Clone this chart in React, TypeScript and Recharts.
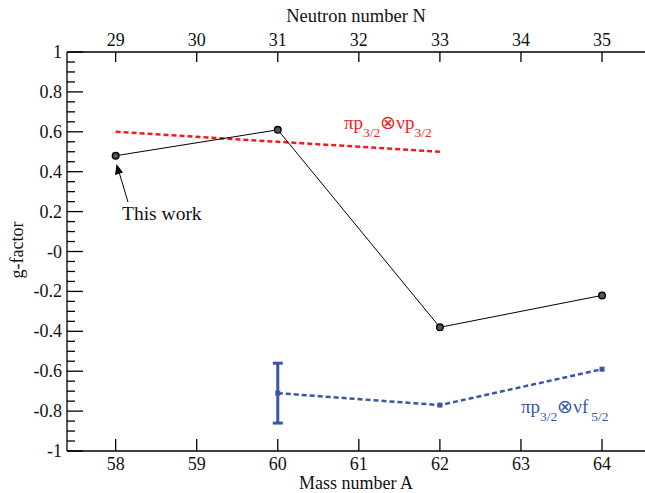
import { LineChart, Line, XAxis, YAxis, ErrorBar } from 'recharts';

const massNumbers = [58, 60, 62, 64];
const thisWork = [0.48, 0.61, -0.38, -0.22];
const ppCalc = [0.6, 0.55, 0.5, null];
const pfCalc = [null, -0.71, -0.77, -0.59];
const pfErr = [null, 0.15, null, null];

const massTicks = [58, 59, 60, 61, 62, 63, 64];
const neutronNumbers = [29, 30, 31, 32, 33, 34, 35];
const yMajorTicks = [1, 0.8, 0.6, 0.4, 0.2, 0, -0.2, -0.4, -0.6, -0.8, -1];
const yLabels = ['1', '0.8', '0.6', '0.4', '0.2', '-0', '-0.2', '-0.4', '-0.6', '-0.8', '-1'];
const yAllTicks = Array.from({ length: 41 }, (_, i) => Math.round((1 - i * 0.05) * 100) / 100);

const data = massNumbers.map((a, i) => ({
  a,
  thisWork: thisWork[i],
  pp: ppCalc[i],
  pf: pfCalc[i],
  pfErr: pfErr[i] ?? undefined,
}));

const FONT = '"Liberation Serif", "Times New Roman", serif';
const RED = '#f01c1c';
const BLUE = '#3b56a6';
const W = 645;
const H = 493;

const YTick = (props: any) => {
  const { x, y, payload } = props;
  const v = payload.value;
  const idx = yMajorTicks.findIndex((t) => Math.abs(t - v) < 1e-6);
  const major = idx >= 0;
  return (
    <g>
      <line x1={x} x2={x + (major ? 16 : 8)} y1={y} y2={y} stroke="#000" strokeWidth={1.3} />
      {major && (
        <text x={x - 5} y={y + 6} textAnchor="end" fontSize={18} fontFamily={FONT} fill="#111">
          {yLabels[idx]}
        </text>
      )}
    </g>
  );
};

const BottomTick = (props: any) => {
  const { x, y, payload } = props;
  return (
    <g>
      <line x1={x} x2={x} y1={y} y2={y - 12} stroke="#000" strokeWidth={1.3} />
      <text x={x} y={y + 19} textAnchor="middle" fontSize={18} fontFamily={FONT} fill="#111">
        {payload.value}
      </text>
    </g>
  );
};

const TopTick = (props: any) => {
  const { x, y, payload } = props;
  const idx = massTicks.indexOf(payload.value);
  return (
    <g>
      <line x1={x} x2={x} y1={y} y2={y + 10} stroke="#000" strokeWidth={1.3} />
      <text x={x} y={y - 6} textAnchor="middle" fontSize={18} fontFamily={FONT} fill="#111">
        {neutronNumbers[idx]}
      </text>
    </g>
  );
};

const BlackDot = (props: any) => {
  const { cx, cy, index } = props;
  if (cx == null || cy == null) return <g key={index} />;
  return <circle key={index} cx={cx} cy={cy} r={3.3} fill="#555" stroke="#000" strokeWidth={1.4} />;
};

const BlueDot = (props: any) => {
  const { cx, cy, index } = props;
  if (cx == null || cy == null) return <g key={index} />;
  return <rect key={index} x={cx - 2.5} y={cy - 2.5} width={5} height={5} fill={BLUE} />;
};

export default function App() {
  return (
    <div style={{ position: 'absolute', left: 0, top: 0, width: W, height: H, background: '#fff' }}>
      <LineChart width={W} height={H} data={data} margin={{ top: 0, right: 0, bottom: 0, left: 0 }}>
        <XAxis
          xAxisId="bottom"
          dataKey="a"
          type="number"
          domain={[57.4, 64.53]}
          ticks={massTicks}
          interval={0}
          height={42}
          tickSize={0}
          tickMargin={0}
          tick={<BottomTick />}
          axisLine={{ stroke: '#000', strokeWidth: 1.3 }}
          allowDataOverflow
        />
        <XAxis
          xAxisId="top"
          orientation="top"
          dataKey="a"
          type="number"
          domain={[57.4, 64.53]}
          ticks={massTicks}
          interval={0}
          height={52}
          tickSize={0}
          tickMargin={0}
          tick={<TopTick />}
          axisLine={{ stroke: '#000', strokeWidth: 1.3 }}
          allowDataOverflow
        />
        <YAxis
          type="number"
          domain={[-1, 1]}
          ticks={yAllTicks}
          interval={0}
          width={67}
          tickSize={0}
          tickMargin={0}
          tick={<YTick />}
          axisLine={{ stroke: '#000', strokeWidth: 1.3 }}
          allowDataOverflow
        />
        <Line
          xAxisId="bottom"
          dataKey="pp"
          stroke={RED}
          strokeWidth={2.5}
          strokeDasharray="5 3"
          dot={false}
          isAnimationActive={false}
        />
        <Line
          xAxisId="bottom"
          dataKey="pf"
          stroke={BLUE}
          strokeWidth={2.5}
          strokeDasharray="5 3"
          dot={<BlueDot />}
          isAnimationActive={false}
        >
          <ErrorBar dataKey="pfErr" width={5} stroke={BLUE} strokeWidth={3} direction="y" />
        </Line>
        <Line
          xAxisId="bottom"
          dataKey="thisWork"
          stroke="#000"
          strokeWidth={1}
          dot={<BlackDot />}
          isAnimationActive={false}
        />
      </LineChart>
      <svg
        width={W}
        height={H}
        style={{ position: 'absolute', left: 0, top: 0, pointerEvents: 'none' }}
        fontFamily={FONT}
      >
        <text x={356} y={22} textAnchor="middle" fontSize={18.5} fill="#111">
          Neutron number N
        </text>
        <text x={356} y={489} textAnchor="middle" fontSize={18} fill="#111">
          Mass number A
        </text>
        <text x={23} y={250} textAnchor="middle" fontSize={18} fill="#111" transform="rotate(-90 23 250)">
          g-factor
        </text>
        <text x={122} y={220} fontSize={19.5} fill="#111">
          This work
        </text>
        <line x1={128} y1={202} x2={119} y2={172} stroke="#000" strokeWidth={1} />
        <polygon points="116.5,164 115,175 123,172.5" fill="#000" />
        <text x={344} y={129} fontSize={19} fill={RED}>
          πp
          <tspan fontSize={13.5} dy={8}>3/2</tspan>
          <tspan dy={-8}>⊗νp</tspan>
          <tspan fontSize={13.5} dy={8}>3/2</tspan>
        </text>
        <text x={521} y={413} fontSize={19} fill={BLUE}>
          πp
          <tspan fontSize={13.5} dy={8}>3/2</tspan>
          <tspan dy={-8}>⊗νf</tspan>
          <tspan fontSize={13.5} dy={8} dx={3}>5/2</tspan>
        </text>
      </svg>
    </div>
  );
}
